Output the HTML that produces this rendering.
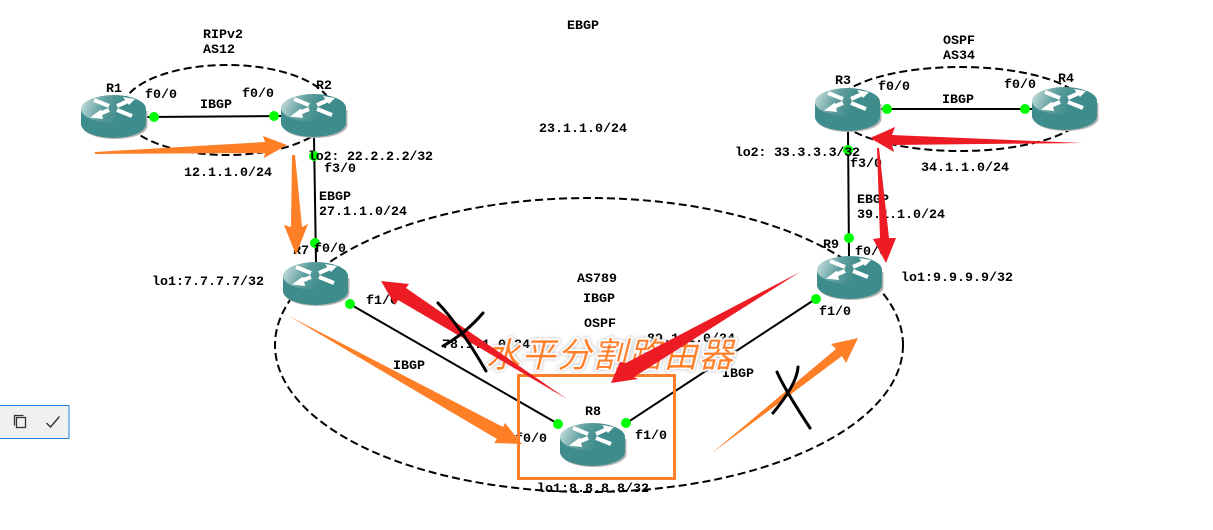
<!DOCTYPE html>
<html><head><meta charset="utf-8"><style>
html,body{margin:0;padding:0;background:#fff;width:1213px;height:530px;overflow:hidden}
svg{display:block}
.t text{font-family:"Liberation Mono","DejaVu Sans Mono",monospace;font-size:13.33px;font-weight:bold;fill:#000}
</style></head><body>
<svg width="1213" height="530" viewBox="0 0 1213 530" xmlns="http://www.w3.org/2000/svg">
<defs>
<linearGradient id="g" x1="0" y1="0" x2="1" y2="0.2"><stop offset="0" stop-color="#d4e6e6"/><stop offset=".4" stop-color="#5f9e9e"/><stop offset=".7" stop-color="#3f8c8c"/><stop offset="1" stop-color="#3f8c8c"/></linearGradient>
<filter id="gl" x="-10%" y="-30%" width="120%" height="160%"><feDropShadow dx="0" dy="0" stdDeviation="1.500" flood-color="#999" flood-opacity=".8"/></filter>
<g id="r">
<path d="M1.500,16 V31 A32.500,13 0 0 0 66.500,31 V16 Z" fill="#b4b4b4"/>
<path d="M0,14 V29 A32.500,14 0 0 0 65,29 V14 Z" fill="#3f8c8c"/>
<ellipse cx="32.500" cy="14" rx="32.500" ry="14" fill="url(#g)"/>
<g stroke="#fff" stroke-width="4" fill="none">
<path d="M13,5 L28,11"/><path d="M36,11 L46,6.500"/><path d="M28,15 L17,19.500"/><path d="M36,15 L51,21"/>
</g>
<path d="M42,2 L54,4 L48,10 Z M20,14.500 L9,22.500 L22,24 Z" fill="#fff"/>
</g>
</defs>
<rect width="1213" height="530" fill="#fff"/>
<g fill="none" stroke="#000" stroke-width="2" stroke-dasharray="8 4">
<ellipse cx="227" cy="110" rx="105" ry="45"/>
<ellipse cx="960" cy="109" rx="126" ry="42"/>
<ellipse cx="589" cy="345" rx="314" ry="147"/>
</g>
<g stroke="#000" stroke-width="2" fill="none">
<path d="M146,117 L281,116"/>
<path d="M314,137 L316,262"/>
<path d="M880,109 L1032,109"/>
<path d="M848,130 L849,256"/>
<path d="M348,303 L560,425"/>
<path d="M817,298 L625,424"/>
</g>
<use href="#r" x="81" y="95"/>
<use href="#r" x="281" y="94"/>
<use href="#r" x="283" y="262"/>
<use href="#r" x="815" y="88"/>
<use href="#r" x="1032" y="87"/>
<use href="#r" x="817" y="256"/>
<use href="#r" x="560" y="423"/>
<g fill="#0f0">
<circle cx="154" cy="117" r="5"/><circle cx="274" cy="116" r="5"/>
<circle cx="314" cy="156" r="5"/><circle cx="315" cy="243" r="5"/>
<circle cx="887" cy="109" r="5"/><circle cx="1025" cy="109" r="5"/>
<circle cx="848" cy="150" r="5"/><circle cx="849" cy="238" r="5"/>
<circle cx="350" cy="304" r="5"/><circle cx="558" cy="424" r="5"/>
<circle cx="816" cy="299" r="5"/><circle cx="626" cy="423" r="5"/>
</g>
<g class="t">
<text x="567" y="29">EBGP</text>
<text x="539" y="132">23.1.1.0/24</text>
<text x="203" y="38">RIPv2</text>
<text x="203" y="53">AS12</text>
<text x="106" y="92">R1</text>
<text x="145" y="98">f0/0</text>
<text x="242" y="97">f0/0</text>
<text x="316" y="89">R2</text>
<text x="200" y="108">IBGP</text>
<text x="184" y="176">12.1.1.0/24</text>
<text x="308" y="160" textLength="125">lo2: 22.2.2.2/32</text>
<text x="324" y="172">f3/0</text>
<text x="319" y="200">EBGP</text>
<text x="319" y="215">27.1.1.0/24</text>
<text x="293" y="254">R7</text>
<text x="314" y="252">f0/0</text>
<text x="152" y="285">lo1:7.7.7.7/32</text>
<text x="366" y="304">f1/0</text>
<text x="943" y="44">OSPF</text>
<text x="943" y="59">AS34</text>
<text x="835" y="84">R3</text>
<text x="878" y="90">f0/0</text>
<text x="1004" y="88">f0/0</text>
<text x="1058" y="82">R4</text>
<text x="942" y="103">IBGP</text>
<text x="735" y="156" textLength="125">lo2: 33.3.3.3/32</text>
<text x="850" y="167">f3/0</text>
<text x="921" y="171">34.1.1.0/24</text>
<text x="857" y="203">EBGP</text>
<text x="857" y="218">39.1.1.0/24</text>
<text x="823" y="248">R9</text>
<text x="855" y="255">f0/0</text>
<text x="901" y="281">lo1:9.9.9.9/32</text>
<text x="819" y="315">f1/0</text>
<text x="577" y="282">AS789</text>
<text x="583" y="302">IBGP</text>
<text x="584" y="327">OSPF</text>
<text x="442" y="348">78.1.1.0/24</text>
<text x="647" y="342">89.1.1.0/24</text>
<text x="393" y="369">IBGP</text>
<text x="722" y="377">IBGP</text>
<text x="585" y="415">R8</text>
<text x="515" y="442">f0/0</text>
<text x="635" y="439">f1/0</text>
<text x="537" y="492">lo1:8.8.8.8/32</text>
</g>
<text transform="translate(486,367) skewX(-14)" font-family="'Noto Sans CJK SC','WenQuanYi Zen Hei',sans-serif" font-size="34" letter-spacing="1.500" fill="#ff7f27" stroke="#fff" stroke-width="3.500" paint-order="stroke" stroke-linejoin="round" filter="url(#gl)">水平分割路由器</text>
<rect x="518.500" y="375.500" width="156" height="103" fill="none" stroke="#fd7f2c" stroke-width="3"/>
<g fill="#ff7f27">
<polygon points="95,152 95,154 265,153 264,158 287,145 263,136 265,142"/>
<polygon points="292,155 295,155 302,227 308,224 296,255 284,225 291,227"/>
<polygon points="289,316 503,427 505,423 522,444 494,443 497,439"/>
<polygon points="712,453 836,349 831,344 858,338 846,363 842,356"/>
</g>
<g fill="#ed1c24">
<polygon points="1082,143 892,135 895,127 870,138 894,152 892,145"/>
<polygon points="877,148 879,148 889,238 896,238 886,263 873,239 880,238"/>
<polygon points="567,399 406,288 409,284 381,281 395,305 398,300"/>
<polygon points="800,272 626,363 620,362 611,383 638,379 634,377"/>
</g>
<g fill="none" stroke="#000" stroke-width="3" stroke-linecap="round">
<path d="M438,303 Q460,326 486,371"/>
<path d="M483,313 Q466,333 443,346"/>
<path d="M777,372 Q785,390 810,428"/>
<path d="M798,367 Q797,384 773,413"/>
</g>
<rect x="-2" y="405.500" width="71" height="33" fill="#f0f0f0" stroke="#2580e0" stroke-width="1"/>
<g fill="none" stroke="#333" stroke-width="1.300">
<rect x="16.500" y="417.500" width="9" height="10"/>
<path d="M14.500,425.500 V415.500 H23.500"/>
<path d="M46.500,423 L50.500,427 L59.500,416.500" stroke-width="1.400"/>
</g>
</svg>
</body></html>
